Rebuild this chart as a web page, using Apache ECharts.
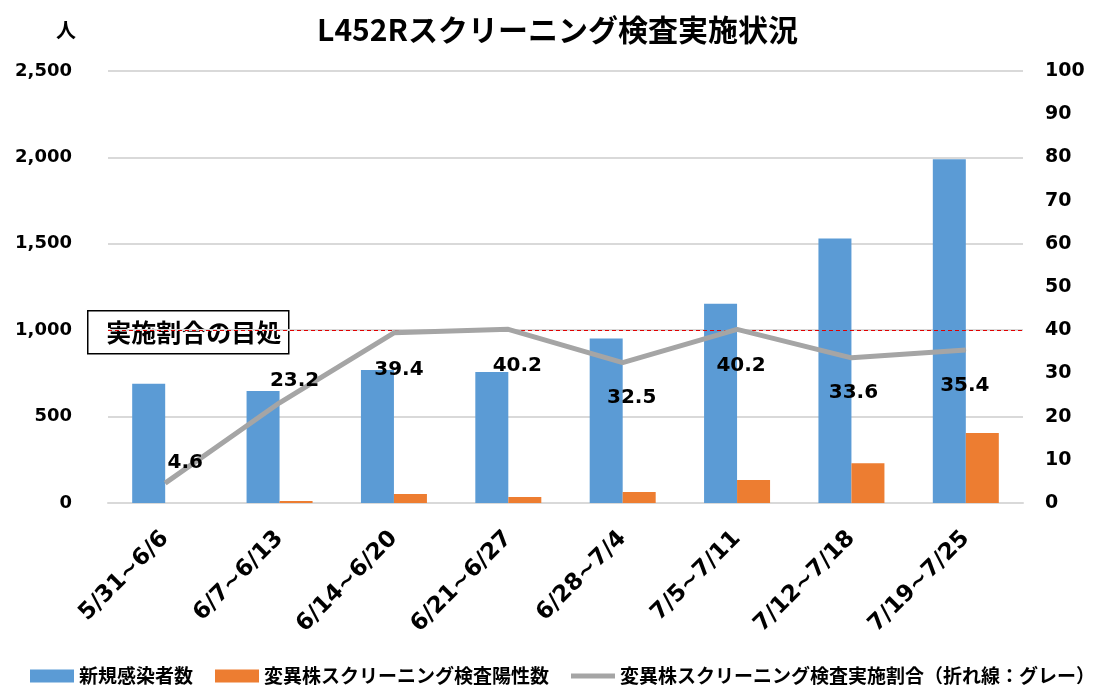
<!DOCTYPE html>
<html><head><meta charset="utf-8">
<script src="https://cdn.jsdelivr.net/npm/echarts@6/dist/echarts.min.js"></script>
<style>html,body{margin:0;background:#fff}#c{width:1115px;height:687px}</style>
</head><body><div id="c"></div>
<script>
const weeks=["5/31~6/6","6/7~6/13","6/14~6/20","6/21~6/27","6/28~7/4","7/5~7/11","7/12~7/18","7/19~7/25"];
const newCases=[690,648,770,758,952,1153,1530,1990];
const positives=[0,12,52,35,64,133,230,405];
const rate=[4.6,23.2,39.4,40.2,32.5,40.2,33.6,35.4];
const target=40;
// where each line label sits relative to its point
const labelOffsets=[[20,-20],[15,-22],[5,37],[9,36],[9,35],[4,36],[2,35],[-1,36]];

const num='"DejaVu Sans",sans-serif';
const jp='"Noto Sans CJK JP",sans-serif';
const chart=echarts.init(document.getElementById("c"));
chart.setOption({
  animation:false,
  title:{text:"L452Rスクリーニング検査実施状況",left:"center",top:10,
    textStyle:{fontFamily:jp,fontWeight:"bold",fontSize:30,color:"#000"}},
  grid:{left:108,right:92,top:71,bottom:184},
  legend:{left:30,top:664,width:1080,padding:0,itemWidth:44,itemHeight:13,itemGap:22,
    textStyle:{fontFamily:jp,fontWeight:"bold",fontSize:19,lineHeight:24,color:"#000"},
    data:[{name:"新規感染者数",icon:"rect"},{name:"変異株スクリーニング検査陽性数",icon:"rect"},
      {name:"変異株スクリーニング検査実施割合（折れ線：グレー）",icon:"path://M0,4L44,4L44,9L0,9Z",
        itemStyle:{color:"#A5A5A5"}}]},
  xAxis:{type:"category",data:weeks,
    axisLine:{lineStyle:{color:"#d9d9d9",width:2}},axisTick:{show:false},
    axisLabel:{rotate:45,margin:32,fontFamily:num,fontWeight:"bold",fontSize:23,color:"#000"}},
  yAxis:[
    {type:"value",min:0,max:2500,interval:500,name:"人",nameGap:31,
      nameTextStyle:{fontFamily:jp,fontWeight:"bold",fontSize:20,color:"#000",align:"right",padding:[0,32,0,0]},
      axisLine:{show:false},axisTick:{show:false},
      splitLine:{lineStyle:{color:"#d9d9d9",width:2}},
      axisLabel:{margin:36,fontFamily:num,fontWeight:"bold",fontSize:18,color:"#000",
        formatter:v=>v.toLocaleString("en-US")}},
    {type:"value",min:0,max:100,interval:10,
      axisLine:{show:false},axisTick:{show:false},splitLine:{show:false},
      axisLabel:{margin:22,fontFamily:num,fontWeight:"bold",fontSize:19,color:"#000"}}
  ],
  series:[
    {name:"新規感染者数",type:"bar",data:newCases,barWidth:33,barGap:"0%",
      itemStyle:{color:"#5B9BD5"}},
    {name:"変異株スクリーニング検査陽性数",type:"bar",data:positives,barWidth:33,
      itemStyle:{color:"#ED7D31"}},
    {name:"変異株スクリーニング検査実施割合（折れ線：グレー）",type:"line",yAxisIndex:1,
      symbol:"circle",symbolSize:1,showSymbol:true,z:5,
      lineStyle:{color:"#A5A5A5",width:5},itemStyle:{color:"#A5A5A5"},
      label:{show:true,position:"inside",fontFamily:num,fontWeight:"bold",fontSize:20,color:"#000"},
      data:rate.map((v,i)=>({value:v,label:{offset:labelOffsets[i]}})),
      markLine:{silent:true,symbol:"none",label:{show:false},
        lineStyle:{color:"#E00000",type:[4,3],width:1},
        data:[{yAxis:target}]}}
  ],
  graphic:[{type:"group",left:87,top:310,z:20,children:[
    {type:"rect",shape:{x:0,y:0,width:201,height:43},
      style:{fill:"#fff",stroke:"#000",lineWidth:1.5}},
    {type:"text",x:106,y:22,style:{text:"実施割合の目処",font:'bold 25px "Noto Sans CJK JP"',
      fill:"#000",align:"center",verticalAlign:"middle"}}
  ]}]
});
</script></body></html>
